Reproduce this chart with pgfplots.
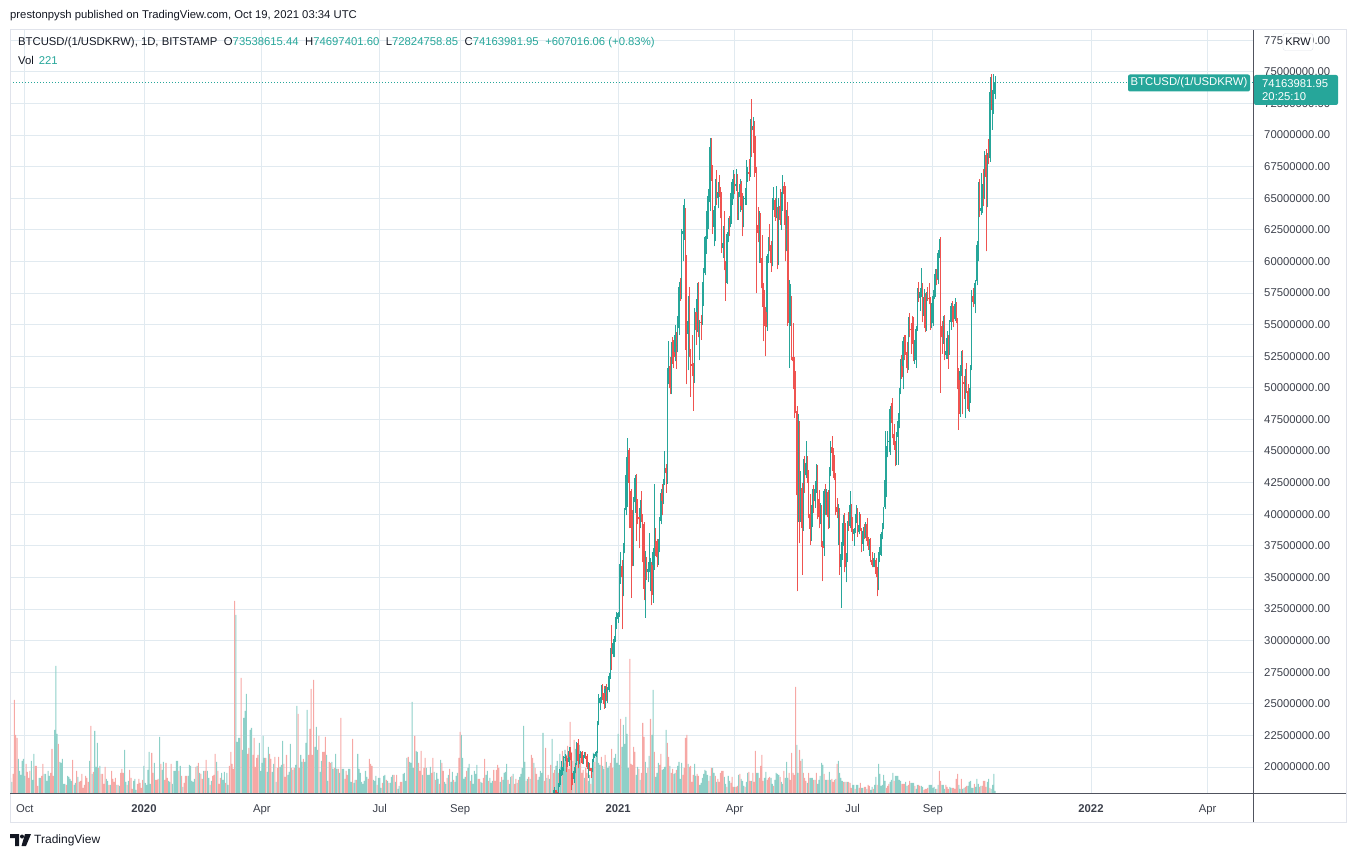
\documentclass[border=0pt]{standalone}
\usepackage{fontspec}
\setmainfont{Liberation Sans}
\usepackage{pgfplots}
\usepackage{pgfplotstable}
\pgfplotsset{compat=1.18}

\definecolor{up}{HTML}{26A69A}
\definecolor{dn}{HTML}{EF5350}
\definecolor{vup}{HTML}{8ED0C8}
\definecolor{vdn}{HTML}{F6A8A5}
\definecolor{gridc}{HTML}{E1EAF0}
\definecolor{txt}{HTML}{131722}
\definecolor{lab}{HTML}{3B3F4A}
\definecolor{framec}{HTML}{E0E3EB}
\definecolor{sepc}{HTML}{50535E}
\newcommand\fs{\fontsize{11.3}{13.5}\selectfont}

% daily candles (million KRW), 2020-11-09 .. 2021-10-19, x = day index from 2019-10-01
\pgfplotstableread[row sep=\\]{
o h l c\\
17.21 17.60 16.70 17.05\\ 17.05 17.35 16.95 17.01\\ 17.01 17.72 16.98 17.46\\ 17.46 18.20 17.30 18.10\\ 18.10 18.45 17.75 18.16\\
18.16 18.20 17.60 17.87\\ 17.87 18.05 17.55 17.75\\ 17.75 18.75 17.65 18.60\\ 18.60 19.85 18.45 19.64\\ 19.64 20.50 19.30 19.79\\
19.79 20.00 19.40 19.82\\ 19.82 20.85 19.70 20.77\\ 20.77 21.00 20.45 20.79\\ 20.79 20.85 19.60 20.48\\ 20.48 20.75 20.00 20.43\\
20.43 21.55 20.10 21.25\\ 21.25 21.60 20.55 20.83\\ 20.83 21.10 18.20 19.07\\ 19.07 19.50 18.55 19.06\\ 19.06 20.00 18.75 19.70\\
19.70 20.30 19.50 20.22\\ 20.22 22.00 20.15 21.91\\
21.91 22.20 19.90 20.48\\ 20.48 21.00 20.20 20.94\\ 20.94 21.30 20.75 21.19\\ 21.19 21.25 20.25 20.33\\ 20.33 20.95 20.20 20.87\\
20.87 21.20 20.75 21.10\\ 21.10 21.20 20.65 20.90\\ 20.90 21.00 19.85 19.97\\ 19.97 20.40 19.10 20.22\\ 20.22 20.30 19.70 19.90\\
19.90 19.95 19.15 19.66\\ 19.66 20.60 19.60 20.49\\ 20.49 21.05 20.40 20.86\\ 20.86 21.05 20.70 20.98\\ 20.98 21.30 20.80 21.18\\
21.18 23.60 21.10 23.46\\ 23.46 25.80 23.30 25.08\\ 25.08 25.50 24.50 25.45\\ 25.45 26.50 25.10 26.25\\ 26.25 26.60 25.30 25.83\\
25.83 26.40 24.60 25.01\\ 25.01 26.40 24.70 26.20\\ 26.20 26.60 25.20 25.56\\ 25.56 26.30 25.10 26.10\\ 26.10 27.40 25.90 27.18\\
27.18 29.40 27.00 29.14\\ 29.14 31.20 27.70 28.91\\ 28.91 30.10 28.70 29.79\\ 29.79 30.40 28.70 30.10\\ 30.10 31.90 29.90 31.72\\
31.72 32.30 30.90 31.90\\
31.90 32.30 31.40 32.16\\ 32.16 36.10 31.90 35.18\\ 35.18 37.00 34.50 35.89\\ 35.89 36.40 30.90 35.01\\ 35.01 37.70 33.50 37.22\\
37.22 40.50 36.90 40.32\\ 40.32 43.50 39.90 43.11\\ 43.11 46.00 40.60 44.53\\ 44.53 45.10 42.50 44.06\\ 44.06 45.20 38.90 41.87\\
41.87 42.00 33.40 38.92\\ 38.92 40.30 35.90 37.24\\ 37.24 41.40 35.90 40.94\\ 40.94 43.10 40.10 42.87\\ 42.87 43.20 37.90 40.26\\
40.26 41.20 39.20 39.80\\ 39.80 40.10 37.30 39.59\\ 39.59 41.10 38.90 40.48\\ 40.48 41.80 39.40 39.66\\ 39.66 40.00 36.20 39.19\\
39.19 39.40 33.20 34.09\\ 34.09 37.10 31.80 36.41\\ 36.41 36.60 34.80 35.45\\ 35.45 36.20 34.60 35.65\\ 35.65 38.50 35.40 35.77\\
35.77 36.50 33.90 35.99\\ 35.99 36.20 32.80 33.63\\ 33.63 37.30 33.00 36.98\\ 36.98 42.40 35.60 37.92\\ 37.92 38.90 36.70 37.87\\
37.87 38.00 35.80 36.59\\
36.59 38.00 36.00 37.30\\ 37.30 39.80 37.00 39.49\\ 39.49 42.00 39.20 41.67\\ 41.67 42.40 39.90 41.07\\ 41.07 42.80 40.80 42.58\\
42.58 45.00 42.30 43.66\\ 43.66 44.00 41.70 43.26\\ 43.26 51.60 42.40 51.37\\ 51.37 53.70 50.30 51.69\\ 51.69 52.40 49.50 49.95\\
49.95 53.60 49.50 53.28\\ 53.28 54.00 51.90 52.82\\ 52.82 53.80 51.60 52.43\\ 52.43 55.00 52.10 54.18\\ 54.18 54.40 51.50 53.31\\
53.31 55.70 52.80 54.71\\ 54.71 58.40 54.20 57.99\\ 57.99 58.70 56.90 57.47\\ 57.47 62.60 57.00 62.15\\ 62.15 64.50 60.00 62.38\\
62.38 64.90 61.70 63.98\\ 63.98 64.20 53.00 60.28\\ 60.28 60.50 50.30 54.29\\ 54.29 57.30 51.40 55.28\\ 55.28 58.00 52.40 52.73\\
52.73 53.10 49.30 51.90\\ 51.90 54.20 50.90 51.73\\ 51.73 52.00 48.20 50.56\\
50.56 56.30 50.40 55.98\\ 55.98 56.20 53.40 54.57\\ 54.57 58.30 54.40 57.01\\ 57.01 58.40 54.00 54.78\\ 54.78 55.40 52.20 55.19\\
55.19 55.80 53.80 55.17\\ 55.17 58.40 55.00 57.76\\ 57.76 59.50 56.50 59.07\\ 59.07 62.00 58.90 61.90\\ 61.90 64.00 60.60 63.00\\
63.00 65.20 61.80 64.67\\ 64.67 65.70 62.60 65.21\\ 65.21 69.80 64.00 69.03\\ 69.03 69.80 66.40 66.57\\ 66.57 67.60 62.20 62.75\\
62.75 64.40 61.20 64.08\\ 64.08 66.50 61.60 66.30\\ 66.30 67.20 64.50 65.00\\ 65.00 66.30 64.20 65.52\\ 65.52 66.80 65.10 65.48\\
65.48 65.90 63.40 64.69\\ 64.69 65.50 60.70 61.08\\ 61.08 62.80 60.30 61.46\\ 61.46 64.00 59.30 59.47\\ 59.47 60.00 56.90 58.32\\
58.32 62.30 58.20 62.20\\ 62.20 63.40 61.50 63.03\\ 63.03 63.60 62.00 62.99\\ 62.99 65.40 62.70 64.88\\ 64.88 66.50 64.50 66.29\\
66.29 67.20 64.90 66.46\\
66.46 66.90 65.30 65.94\\ 65.94 67.30 65.60 66.11\\ 66.11 66.90 63.30 63.79\\ 63.79 65.50 63.30 65.07\\ 65.07 66.50 63.90 66.10\\
66.10 66.40 64.10 64.41\\ 64.41 65.40 62.00 62.78\\ 62.78 65.20 62.70 64.92\\ 64.92 65.80 64.50 64.98\\ 64.98 68.00 64.50 66.82\\
66.82 67.50 66.30 67.06\\ 67.06 68.10 66.40 66.92\\ 66.92 71.30 66.70 71.08\\ 71.08 72.85 68.30 70.39\\ 70.39 71.40 69.90 70.69\\
70.69 71.10 66.70 68.60\\ 68.60 69.90 67.00 67.18\\ 67.18 67.50 57.50 62.89\\ 62.89 64.30 61.50 62.27\\ 62.27 64.00 59.90 63.13\\
63.13 63.80 59.90 60.26\\ 60.26 62.10 56.40 57.87\\ 57.87 58.30 53.70 57.13\\ 57.13 57.70 54.90 55.96\\ 55.96 56.40 52.50 54.78\\
54.78 60.60 54.50 60.39\\ 60.39 61.90 59.90 61.53\\ 61.53 63.00 60.80 61.31\\ 61.31 61.60 59.20 59.87\\ 59.87 65.00 59.60 64.57\\
64.57 65.90 64.10 64.89\\ 64.89 65.00 63.20 63.54\\ 63.54 66.00 63.40 64.18\\ 64.18 64.30 59.40 59.84\\ 59.84 65.00 59.70 64.40\\
64.40 65.70 62.90 63.28\\ 63.28 65.50 62.50 64.36\\ 64.36 66.80 64.00 65.97\\ 65.97 66.30 62.90 65.33\\ 65.33 66.00 60.00 62.67\\
62.67 64.10 60.80 63.62\\ 63.62 64.70 54.90 55.15\\ 55.15 58.50 51.60 55.79\\ 55.79 58.20 54.90 55.97\\ 55.97 57.30 52.20 52.46\\
52.46 55.10 49.90 52.09\\ 52.09 52.40 47.60 48.85\\ 48.85 51.30 48.00 48.15\\ 48.15 48.60 33.90 41.51\\ 41.51 47.90 39.40 45.76\\
45.76 47.40 37.70 41.85\\ 41.85 43.40 39.40 42.04\\ 42.04 42.50 35.20 38.93\\ 38.93 44.40 38.70 43.42\\ 43.42 44.60 41.70 43.08\\
43.08 45.80 42.90 44.08\\ 44.08 44.60 42.50 43.23\\ 43.23 43.50 39.70 40.01\\ 40.01 41.60 37.60 38.84\\ 38.84 40.70 37.90 40.03\\
40.03 42.00 39.00 41.90\\
41.90 42.30 40.10 41.02\\ 41.02 42.60 40.50 42.01\\ 42.01 44.00 41.70 43.81\\ 43.81 43.90 39.60 41.23\\ 41.23 41.90 38.90 39.74\\
39.74 40.90 39.20 40.09\\ 40.09 40.70 37.40 37.52\\ 37.52 37.90 34.70 37.34\\ 37.34 42.00 36.70 41.80\\ 41.80 42.40 39.90 41.03\\
41.03 42.00 39.90 41.75\\ 41.75 41.90 38.80 39.74\\ 39.74 43.70 38.90 43.62\\ 43.62 45.80 43.00 45.30\\ 45.30 46.20 44.30 44.88\\
44.88 45.20 42.90 43.45\\ 43.45 44.70 42.70 43.16\\ 43.16 43.30 39.90 40.58\\ 40.58 41.30 39.70 40.20\\ 40.20 40.80 37.60 40.33\\
40.33 40.50 35.20 35.83\\ 35.83 37.80 32.60 36.83\\ 36.83 39.30 36.40 38.16\\ 38.16 39.90 37.50 39.27\\ 39.27 40.10 35.40 35.79\\
35.79 36.90 34.60 36.57\\ 36.57 39.50 36.20 39.31\\ 39.31 40.20 38.70 39.08\\ 39.08 41.80 38.90 40.69\\ 40.69 40.80 38.60 39.70\\
39.70 39.80 37.90 38.44\\ 38.44 38.90 37.50 38.80\\ 38.80 40.00 38.50 39.69\\ 39.69 40.70 39.30 40.41\\ 40.41 40.50 38.20 38.57\\
38.57 40.20 38.40 39.18\\ 39.18 40.00 38.70 38.77\\ 38.77 38.90 37.00 37.65\\ 37.65 39.00 37.10 38.71\\ 38.71 39.20 38.00 38.38\\
38.38 39.40 38.10 39.23\\ 39.23 39.70 37.50 37.89\\ 37.89 38.20 37.20 37.48\\ 37.48 38.00 36.70 37.58\\ 37.58 38.10 36.20 36.39\\
36.39 37.00 35.80 35.98\\ 35.98 36.50 35.80 36.09\\ 36.09 36.90 35.80 36.39\\ 36.39 36.50 35.00 35.29\\ 35.29 35.80 33.50 34.11\\
34.11 37.00 34.00 36.80\\ 36.80 37.40 36.20 36.97\\ 36.97 38.60 36.70 38.45\\ 38.45 39.30 38.00 39.25\\ 39.25 40.60 38.80 40.57\\
40.57 46.60 40.40 42.67\\ 42.67 45.40 41.40 45.19\\ 45.19 46.60 44.50 45.81\\ 45.81 46.70 44.90 45.83\\ 45.83 48.60 44.70 48.36\\
48.36 48.80 47.20 47.66\\
47.66 49.20 46.00 46.37\\ 46.37 47.10 45.10 45.47\\ 45.47 45.80 43.80 44.25\\ 44.25 46.50 43.90 46.11\\ 46.11 48.00 43.90 47.41\\
47.41 50.00 46.80 49.69\\ 49.69 52.30 49.50 51.75\\ 51.75 52.60 50.70 50.82\\ 50.82 54.00 49.90 53.70\\ 53.70 54.20 52.20 52.88\\
52.88 54.20 52.60 52.85\\ 52.85 53.60 51.20 51.54\\ 51.54 55.60 51.40 55.47\\ 55.47 55.90 54.00 54.64\\ 54.64 55.10 52.70 54.57\\
54.57 55.70 53.50 53.68\\ 53.68 55.60 52.10 52.19\\ 52.19 53.80 51.90 52.22\\ 52.22 54.90 51.60 54.62\\ 54.62 57.90 54.50 57.63\\
57.63 58.40 56.80 57.12\\ 57.12 57.90 56.10 57.61\\ 57.61 59.50 57.20 57.87\\ 57.87 58.30 55.20 55.71\\ 55.71 57.80 55.40 57.21\\
57.21 57.50 54.40 54.72\\ 54.72 57.60 54.50 57.31\\ 57.31 58.00 56.90 57.12\\ 57.12 58.30 56.60 57.01\\ 57.01 57.20 54.60 54.87\\
54.87 56.70 54.70 55.09\\
55.09 57.70 54.90 57.23\\ 57.23 59.00 57.00 57.76\\ 57.76 59.40 57.20 58.64\\ 58.64 59.40 58.10 58.53\\ 58.53 60.90 58.20 60.67\\
60.67 61.80 60.30 61.72\\ 61.72 61.90 49.60 54.92\\ 54.92 55.30 52.70 53.99\\ 53.99 55.70 53.50 54.35\\ 54.35 55.80 52.20 52.56\\
52.56 53.70 52.30 52.93\\ 52.93 54.50 52.30 53.98\\ 53.98 54.20 51.50 52.69\\ 52.69 55.40 52.60 55.19\\ 55.19 56.70 54.60 56.47\\
56.47 56.90 55.20 56.00\\ 56.00 56.50 54.80 55.42\\ 55.42 57.10 55.30 56.61\\ 56.61 56.80 55.10 55.39\\ 55.39 55.50 49.90 50.65\\
50.65 51.60 46.70 47.93\\ 47.93 51.80 47.70 51.33\\ 51.33 52.90 50.90 52.87\\ 52.87 53.00 47.90 50.47\\ 50.47 50.90 49.10 50.31\\
50.31 51.50 47.60 50.89\\ 50.89 52.00 49.60 49.75\\ 49.75 50.30 48.20 48.33\\ 48.33 50.00 48.10 48.91\\ 48.91 51.80 48.80 51.58\\
51.58 57.70 51.40 57.29\\ 57.29 57.90 56.40 56.77\\ 56.77 58.30 56.60 57.36\\ 57.36 58.50 55.90 58.44\\ 58.44 61.60 58.10 61.30\\
61.30 66.30 60.00 65.88\\ 65.88 66.50 63.50 64.02\\ 64.02 67.00 63.70 64.22\\ 64.22 66.10 63.80 65.40\\ 65.40 67.30 64.40 65.05\\
65.05 68.70 64.90 68.39\\ 68.39 68.90 60.80 66.69\\ 66.69 68.60 64.30 68.31\\ 68.31 69.70 67.70 68.21\\ 68.21 74.60 67.90 73.39\\
73.39 74.80 72.00 72.45\\ 72.45 73.60 70.40 73.22\\ 73.22 74.80 71.70 73.54\\ 73.54 74.70 72.82 74.16\\
}\cdl

% daily volume in px of bar height; sign = candle direction, 2019-09-20 .. 2021-10-19
\pgfplotstableread[row sep=\\]{
k v\\
0 -15\\ 0 11\\ 0 -19\\ 0 -93\\ 0 -58\\ 0 -55\\ 0 34\\ 0 22\\ 0 18\\ 0 32\\ 0 34\\
0 17\\ 0 -29\\ 0 -21\\ 0 -15\\ 0 -22\\ 0 32\\ 0 13\\ 0 39\\ 0 -27\\ 0 -27\\ 0 -7\\ 0 15\\ 0 15\\ 0 -17\\ 0 -29\\ 0 19\\ 0 19\\ 0 12\\ 0 22\\ 0 17\\ 0 -20\\
0 -44\\ 0 -17\\ 0 63\\ 0 127\\ 0 59\\ 0 -49\\ 0 31\\ 0 30\\ 0 34\\ 0 9\\
0 9\\ 0 -8\\ 0 17\\ 0 16\\ 0 14\\ 0 12\\ 0 -33\\ 0 8\\ 0 10\\ 0 -22\\ 0 16\\ 0 -11\\ 0 -12\\ 0 -19\\ 0 -5\\ 0 -8\\ 0 -17\\ 0 -15\\ 0 -11\\ 0 32\\
0 -67\\ 0 19\\ 0 -21\\ 0 62\\ 0 26\\ 0 50\\ 0 -25\\ 0 27\\ 0 -19\\ 0 -19\\ 0 -9\\ 0 -26\\ 0 14\\ 0 12\\ 0 -8\\ 0 8\\ 0 -22\\ 0 -14\\ 0 -11\\ 0 -15\\
0 8\\ 0 -8\\ 0 7\\ 0 -20\\ 0 -24\\ 0 -20\\ 0 43\\ 0 11\\ 0 -8\\ 0 12\\ 0 -23\\ 0 -15\\ 0 -4\\ 0 12\\ 0 14\\ 0 3\\ 0 -9\\ 0 -14\\ 0 -10\\ 0 -5\\
0 -13\\ 0 27\\ 0 10\\ 0 8\\ 0 23\\ 0 41\\ 0 9\\ 0 -40\\ 0 -20\\ 0 30\\ 0 -13\\ 0 -13\\ 0 -14\\ 0 56\\ 0 -29\\ 0 23\\ 0 31\\ 0 -13\\ 0 -30\\ 0 -15\\
0 12\\ 0 11\\ 0 -29\\ 0 9\\ 0 22\\ 0 22\\ 0 32\\ 0 32\\ 0 -22\\ 0 27\\ 0 -17\\ 0 6\\ 0 -10\\ 0 -17\\ 0 -17\\ 0 17\\ 0 28\\ 0 27\\ 0 12\\ 0 11\\
0 14\\ 0 -26\\ 0 27\\ 0 -30\\ 0 20\\ 0 -19\\ 0 -14\\ 0 22\\ 0 -22\\ 0 -33\\ 0 22\\ 0 15\\ 0 -8\\ 0 12\\ 0 -17\\ 0 -18\\ 0 -39\\ 0 31\\ 0 -22\\ 0 -9\\
0 -15\\ 0 20\\ 0 13\\ 0 21\\ 0 -10\\ 0 20\\ 0 8\\ 0 -27\\ 0 -41\\ 0 -29\\ 0 -24\\ 0 -192\\ 0 178\\ 0 51\\ 0 55\\ 0 55\\ 0 -115\\ 0 43\\ 0 75\\ 0 82\\
0 99\\ 0 -39\\ 0 -45\\ 0 63\\ 0 65\\ 0 -38\\ 0 -55\\ 0 -26\\ 0 -35\\ 0 -38\\ 0 50\\ 0 22\\ 0 30\\ 0 57\\ 0 35\\ 0 -35\\ 0 21\\ 0 46\\ 0 -39\\ 0 -34\\
0 21\\ 0 29\\ 0 -36\\ 0 11\\ 0 -25\\ 0 -36\\ 0 26\\ 0 28\\ 0 52\\ 0 -29\\ 0 -16\\ 0 -38\\ 0 18\\ 0 21\\ 0 49\\ 0 -25\\ 0 23\\ 0 -25\\
0 28\\ 0 87\\ 0 -79\\ 0 -25\\ 0 38\\ 0 31\\ 0 -34\\ 0 31\\ 0 50\\ 0 83\\ 0 -38\\ 0 -64\\ 0 -104\\ 0 -38\\ 0 -113\\ 0 46\\ 0 66\\ 0 43\\ 0 -57\\
0 21\\ 0 32\\ 0 -41\\ 0 -41\\ 0 -56\\ 0 38\\ 0 12\\ 0 -31\\ 0 -30\\ 0 31\\ 0 24\\ 0 -25\\
0 39\\ 0 24\\ 0 -24\\ 0 20\\
0 -75\\ 0 24\\ 0 24\\ 0 -14\\ 0 -22\\ 0 -18\\ 0 24\\ 0 24\\ 0 11\\ 0 -54\\ 0 10\\ 0 13\\ 0 -13\\ 0 39\\ 0 24\\ 0 20\\ 0 11\\
0 9\\ 0 12\\ 0 22\\ 0 16\\ 0 -14\\ 0 -34\\ 0 -29\\ 0 -27\\ 0 13\\ 0 12\\ 0 17\\ 0 -8\\ 0 15\\ 0 15\\ 0 5\\ 0 -10\\ 0 17\\ 0 18\\ 0 -13\\ 0 12\\
0 -10\\ 0 10\\ 0 16\\ 0 18\\ 0 -18\\ 0 11\\ 0 -18\\ 0 4\\ 0 7\\ 0 -11\\ 0 -11\\ 0 19\\ 0 20\\ 0 12\\ 0 35\\ 0 -36\\ 0 31\\ 0 30\\ 0 91\\ 0 25\\ 0 -57\\
0 42\\ 0 41\\ 0 -30\\ 0 -22\\ 0 -42\\ 0 18\\ 0 -25\\ 0 -35\\ 0 25\\ 0 18\\ 0 18\\ 0 26\\ 0 -20\\ 0 -35\\ 0 21\\ 0 -13\\ 0 20\\ 0 14\\ 0 -9\\ 0 33\\
0 -30\\ 0 -22\\ 0 11\\ 0 9\\ 0 -15\\ 0 18\\ 0 -24\\ 0 11\\ 0 21\\ 0 -13\\ 0 11\\ 0 17\\ 0 20\\ 0 -35\\ 0 -61\\ 0 58\\ 0 35\\ 0 14\\ 0 16\\ 0 -22\\
0 25\\ 0 29\\ 0 -12\\ 0 18\\ 0 9\\ 0 22\\ 0 19\\ 0 28\\ 0 -14\\ 0 -14\\ 0 11\\ 0 10\\ 0 -15\\ 0 -34\\ 0 18\\ 0 22\\ 0 -12\\ 0 15\\ 0 10\\ 0 12\\
0 -23\\
0 -12\\ 0 -23\\ 0 -28\\ 0 -25\\ 0 11\\ 0 -16\\ 0 13\\ 0 20\\ 0 21\\ 0 29\\ 0 -13\\ 0 9\\ 0 16\\ 0 -17\\ 0 19\\ 0 -9\\ 0 -14\\ 0 10\\
0 -13\\ 0 16\\ 0 19\\ 0 25\\ 0 67\\ 0 31\\ 0 -12\\ 0 14\\ 0 -16\\ 0 14\\ 0 -38\\ 0 -35\\ 0 30\\ 0 -25\\ 0 -19\\ 0 13\\ 0 16\\ 0 22\\ 0 20\\ 0 60\\ 0 -12\\ 0 -45\\
0 15\\ 0 -18\\ 0 14\\ 0 -28\\ 0 54\\ 0 -20\\ 0 -23\\ 0 27\\ 0 32\\ 0 -20\\ 0 39\\ 0 26\\ 0 -42\\ 0 30\\ 0 43\\ 0 38\\ 0 -47\\ 0 -24\\ 0 -71\\ 0 -41\\
0 32\\ 0 -53\\ 0 44\\ 0 -28\\ 0 33\\ 0 48\\ 0 -42\\ 0 -20\\ 0 -23\\ 0 15\\ 0 -25\\ 0 -20\\ 0 12\\ 0 18\\ 0 -9\\ 0 22\\ 0 40\\ 0 -31\\ 0 38\\ 0 43\\
0 30\\ 0 28\\ 0 -36\\ 0 27\\ 0 24\\ 0 -38\\ 0 31\\ 0 25\\ 0 27\\ 0 -30\\ 0 -44\\ 0 -25\\ 0 35\\ 0 39\\ 0 30\\ 0 59\\ 0 28\\ 0 -74\\ 0 46\\ 0 68\\ 0 49\\
0 76\\ 0 59\\ 0 25\\ 0 -134\\ 0 -29\\ 0 -28\\ 0 -46\\ 0 -41\\ 0 18\\ 0 26\\ 0 -24\\ 0 13\\ 0 -20\\ 0 -70\\ 0 -56\\ 0 31\\ 0 20\\ 0 -25\\ 0 37\\ 0 -74\\
0 58\\ 0 103\\ 0 -41\\ 0 16\\ 0 20\\ 0 30\\ 0 -28\\ 0 -39\\ 0 23\\ 0 24\\ 0 26\\ 0 63\\ 0 -50\\ 0 -36\\ 0 27\\ 0 -20\\ 0 -24\\ 0 19\\
0 20\\ 0 -23\\ 0 27\\ 0 31\\ 0 14\\ 0 30\\ 0 -18\\ 0 -25\\ 0 -55\\ 0 -58\\ 0 29\\ 0 -26\\ 0 -27\\ 0 -11\\ 0 -18\\ 0 29\\ 0 17\\ 0 -19\\ 0 -17\\
0 8\\ 0 10\\ 0 15\\ 0 19\\ 0 23\\ 0 22\\ 0 18\\ 0 -12\\ 0 17\\ 0 -25\\ 0 25\\ 0 20\\ 0 -17\\ 0 11\\ 0 -14\\ 0 -11\\ 0 -20\\ 0 -22\\ 0 -22\\ 0 16\\
0 9\\ 0 -6\\ 0 17\\ 0 12\\ 0 -10\\ 0 -16\\ 0 -6\\ 0 6\\ 0 -6\\ 0 -7\\ 0 18\\ 0 -19\\ 0 14\\ 0 12\\ 0 7\\ 0 -6\\ 0 11\\ 0 20\\ 0 -21\\ 0 -12\\
0 12\\ 0 -20\\ 0 -11\\ 0 -42\\ 0 20\\ 0 20\\ 0 -15\\ 0 -27\\ 0 -38\\ 0 -12\\ 0 15\\ 0 21\\ 0 -13\\ 0 -15\\ 0 -16\\ 0 15\\ 0 9\\ 0 -7\\ 0 13\\ 0 20\\ 0 19\\
0 18\\ 0 -16\\ 0 11\\ 0 9\\ 0 -22\\ 0 15\\ 0 31\\ 0 15\\ 0 -20\\ 0 -13\\ 0 -40\\ 0 -20\\ 0 -18\\ 0 -106\\ 0 48\\ 0 20\\ 0 -43\\ 0 -32\\ 0 34\\ 0 -20\\
0 -15\\ 0 -12\\ 0 10\\ 0 -20\\ 0 15\\ 0 15\\ 0 15\\ 0 -13\\ 0 13\\ 0 -20\\ 0 9\\ 0 13\\ 0 17\\ 0 30\\ 0 28\\ 0 -19\\ 0 13\\ 0 13\\ 0 -13\\ 0 21\\
0 13\\ 0 -14\\ 0 -11\\ 0 -13\\ 0 14\\ 0 -29\\ 0 32\\ 0 20\\ 0 15\\ 0 12\\ 0 -11\\ 0 11\\ 0 -11\\ 0 11\\ 0 -11\\ 0 -10\\ 0 -5\\ 0 8\\ 0 8\\
0 -4\\ 0 8\\ 0 8\\ 0 -5\\ 0 -10\\ 0 5\\ 0 5\\ 0 -6\\ 0 -6\\ 0 4\\ 0 -8\\ 0 -7\\ 0 3\\ 0 6\\ 0 -4\\ 0 8\\ 0 16\\ 0 -8\\ 0 29\\ 0 19\\
0 7\\ 0 8\\ 0 18\\ 0 12\\ 0 -5\\ 0 -7\\ 0 -9\\ 0 11\\ 0 13\\ 0 20\\ 0 -12\\ 0 17\\ 0 17\\ 0 17\\ 0 13\\ 0 12\\ 0 -9\\ 0 -9\\ 0 -9\\ 0 11\\
0 7\\ 0 -8\\ 0 -12\\ 0 10\\ 0 10\\ 0 10\\ 0 -7\\ 0 4\\ 0 8\\ 0 -8\\ 0 -7\\ 0 7\\ 0 6\\ 0 -3\\ 0 -4\\ 0 -4\\ 0 -5\\ 0 8\\ 0 8\\ 0 8\\
0 5\\ 0 6\\ 0 4\\ 0 -4\\ 0 8\\ 0 -22\\ 0 -12\\ 0 8\\ 0 8\\ 0 4\\ 0 -8\\ 0 -6\\ 0 -4\\ 0 6\\ 0 5\\ 0 -5\\ 0 -5\\ 0 -4\\ 0 -14\\ 0 -19\\ 0 8\\ 0 4\\
0 -14\\ 0 4\\ 0 5\\ 0 -6\\ 0 -7\\ 0 7\\ 0 11\\ 0 12\\ 0 5\\ 0 5\\ 0 -9\\ 0 6\\ 0 14\\ 0 9\\ 0 -6\\ 0 7\\ 0 -7\\ 0 -12\\ 0 -12\\ 0 -6\\ 0 11\\ 0 14\\ 0 -5\\ 0 4\\ 0 8\\ 0 19\\ 0 2\\
}\voltab

\pgfplotsset{
  pane/.style={at={(10pt,64pt)}, anchor=south west, scale only axis,
    width=1243pt, height=763pt, xmin=-11.42, xmax=948.1},
  candle/.style={only marks, mark=*, mark size=0pt, mark options={draw=none, fill=none},
    error bars/.cd, y dir=plus, y explicit, error mark=none},
}

\begin{document}
\begin{tikzpicture}
\useasboundingbox (0pt,0pt) rectangle (1352pt,857pt);

% grid and scales
\begin{axis}[pane, ymin=17.943, ymax=78.31,
  axis line style={draw=none}, major tick length=0pt,
  grid=major, grid style={draw=gridc, line width=0.9pt},
  xtick={0,92,183,274,336,458,548,639,701,823,913},
  xticklabels={Oct,\textbf{2020},Apr,Jul,Sep,\textbf{2021},Apr,Jul,Sep,\textbf{2022},Apr},
  xticklabel style={font=\fs, text=lab, anchor=base, yshift=-19pt, inner sep=0pt},
  ytick={20,22.5,25,27.5,30,32.5,35,37.5,40,42.5,45,47.5,50,52.5,55,57.5,60,62.5,65,67.5,70,72.5,75,77.5},
  yticklabels={20000000.00,22500000.00,25000000.00,27500000.00,30000000.00,32500000.00,
    35000000.00,37500000.00,40000000.00,42500000.00,45000000.00,47500000.00,50000000.00,
    52500000.00,55000000.00,57500000.00,60000000.00,62500000.00,65000000.00,67500000.00,
    70000000.00,72500000.00,75000000.00,77500000.00},
  yticklabel pos=right,
  yticklabel style={font=\fs, text=lab, anchor=west, inner sep=0pt, xshift=11pt},
]
\end{axis}

% volume
\begin{axis}[pane, ymin=0, ymax=763, hide axis]
\addplot[ybar, bar width=0.8, bar shift=0pt, fill=vup, draw=none]
  table[x expr=\coordindex-11, y expr={max(\thisrow{v},0)}] {\voltab};
\addplot[ybar, bar width=0.8, bar shift=0pt, fill=vdn, draw=none]
  table[x expr=\coordindex-11, y expr={max(-\thisrow{v},0)}] {\voltab};
\end{axis}

% candles
\begin{axis}[pane, ymin=17.943, ymax=78.31, hide axis]
\addplot[up, dash pattern=on 1pt off 2pt, line width=0.8pt] coordinates {(-11.42,74.16) (948.1,74.16)};
% wicks
\addplot[restrict expr to domain={\thisrow{c}-\thisrow{o}}{0:100},
  candle, error bar style={draw=up, line width=0.7pt}]
  table[x expr=\coordindex+405, y=l, y error plus expr=\thisrow{h}-\thisrow{l}] {\cdl};
\addplot[restrict expr to domain={\thisrow{c}-\thisrow{o}}{-100:-0.0001},
  candle, error bar style={draw=dn, line width=0.7pt}]
  table[x expr=\coordindex+405, y=l, y error plus expr=\thisrow{h}-\thisrow{l}] {\cdl};
% bodies
\addplot[restrict expr to domain={\thisrow{c}-\thisrow{o}}{0:100},
  candle, error bar style={draw=up, line width=1.4pt}]
  table[x expr=\coordindex+405, y=o, y error plus expr=\thisrow{c}-\thisrow{o}] {\cdl};
\addplot[restrict expr to domain={\thisrow{c}-\thisrow{o}}{-100:-0.0001},
  candle, error bar style={draw=dn, line width=1.4pt}]
  table[x expr=\coordindex+405, y=c, y error plus expr=\thisrow{o}-\thisrow{c}] {\cdl};
\end{axis}

% frame
\draw[framec, line width=1pt] (10pt,35pt) rectangle (1346pt,827pt);
\draw[sepc, line width=1pt] (1253pt,35pt) -- (1253pt,827pt);
\draw[sepc, line width=1pt] (10pt,64pt) -- (1346pt,64pt);

% last price tags
\node[fill=up, text=white, font=\fs, rounded corners=2pt, minimum width=122pt, minimum height=17pt, inner sep=0pt]
  at (1189pt,774pt) {BTCUSD/(1/USDKRW)};
\fill[up, rounded corners=2pt] (1254pt,752pt) rectangle (1338pt,782pt);
\node[text=white, font=\fs, anchor=west, inner sep=0pt] at (1262pt,773.5pt) {74163981.95};
\node[text=white, font=\fs, anchor=west, inner sep=0pt] at (1262pt,760pt) {20:25:10};
\node[draw=framec, fill=white, text=txt, font=\fontsize{11}{13}\selectfont, rounded corners=2.5pt,
  minimum width=30pt, minimum height=17pt, inner sep=0pt] at (1298pt,815pt) {KRW};

% header texts
\node[anchor=west, inner sep=0pt, font=\fs, text=txt] at (10pt,841pt)
  {prestonpysh published on TradingView.com, Oct 19, 2021 03:34 UTC};
\node[anchor=west, inner sep=0pt, font=\fs, text=txt] at (18pt,814pt)
  {BTCUSD/(1/USDKRW), 1D, BITSTAMP\hspace{6.5pt}O\textcolor{up}{73538615.44}\hspace{6.5pt}H\textcolor{up}{74697401.60}\hspace{6.5pt}L\textcolor{up}{72824758.85}\hspace{6.5pt}C\textcolor{up}{74163981.95}\hspace{6.5pt}\textcolor{up}{+607016.06 (+0.83\%)}};
\node[anchor=west, inner sep=0pt, font=\fs, text=txt] at (18pt,797pt) {Vol\hspace{5pt}\textcolor{up}{221}};

% TradingView logo
\fill[txt] (10pt,23pt) -- (19pt,23pt) -- (19pt,11pt) -- (15pt,11pt) -- (15pt,19pt) -- (10pt,19pt) -- cycle;
\fill[txt] (22pt,20.5pt) circle (2pt);
\fill[txt] (25pt,23pt) -- (31pt,23pt) -- (26pt,11pt) -- (21.5pt,11pt) -- cycle;
\node[anchor=west, inner sep=0pt, font=\fontsize{12}{14}\selectfont, text=txt] at (34pt,17pt) {TradingView};
\end{tikzpicture}
\end{document}
